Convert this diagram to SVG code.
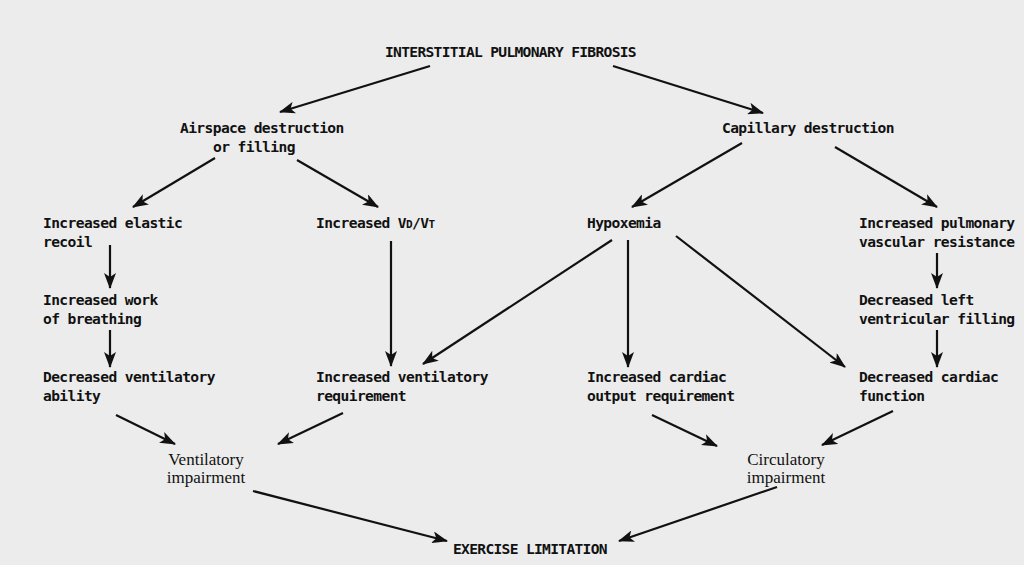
<svg xmlns="http://www.w3.org/2000/svg" width="1024" height="565" viewBox="0 0 1024 565">
<defs>
<style>
.m{font-family:"DejaVu Sans Mono","Liberation Mono",monospace;font-weight:bold;font-size:14.6px;letter-spacing:-0.6px;fill:#111}
.s{font-family:"Liberation Serif","Times New Roman",serif;font-size:17px;fill:#111}
.sc{font-size:11px}
.c line{stroke:#111;stroke-width:2.2}
</style>
<marker id="ah" markerUnits="userSpaceOnUse" markerWidth="16" markerHeight="12" refX="15" refY="6" orient="auto">
<path d="M0,0 L16,6 L0,12 L4,6 Z" fill="#111"/>
</marker>
</defs>
<rect width="1024" height="565" fill="#ececec"/>
<g class="c">
<line x1="430" y1="66" x2="280" y2="112" marker-end="url(#ah)"/>
<line x1="613" y1="66" x2="763" y2="113" marker-end="url(#ah)"/>
<line x1="215" y1="158" x2="133" y2="207" marker-end="url(#ah)"/>
<line x1="297" y1="160" x2="378" y2="207" marker-end="url(#ah)"/>
<line x1="742" y1="143" x2="632" y2="207" marker-end="url(#ah)"/>
<line x1="835" y1="147" x2="937" y2="207" marker-end="url(#ah)"/>
<line x1="110" y1="245" x2="110" y2="288" marker-end="url(#ah)"/>
<line x1="110" y1="330" x2="110" y2="367" marker-end="url(#ah)"/>
<line x1="391" y1="241" x2="391" y2="366" marker-end="url(#ah)"/>
<line x1="937" y1="253" x2="937" y2="288" marker-end="url(#ah)"/>
<line x1="937" y1="330" x2="937" y2="367" marker-end="url(#ah)"/>
<line x1="612" y1="240" x2="423" y2="364" marker-end="url(#ah)"/>
<line x1="628" y1="240" x2="628" y2="367" marker-end="url(#ah)"/>
<line x1="676" y1="236" x2="845" y2="367" marker-end="url(#ah)"/>
<line x1="116" y1="415" x2="175" y2="444" marker-end="url(#ah)"/>
<line x1="343" y1="413" x2="278" y2="444" marker-end="url(#ah)"/>
<line x1="652" y1="415" x2="717" y2="446" marker-end="url(#ah)"/>
<line x1="893" y1="411" x2="822" y2="445" marker-end="url(#ah)"/>
<line x1="253" y1="491" x2="447" y2="541" marker-end="url(#ah)"/>
<line x1="777" y1="487" x2="619" y2="541" marker-end="url(#ah)"/>
</g>
<g id="n-ipf"><text class="m" x="385" y="57" textLength="251">INTERSTITIAL PULMONARY FIBROSIS</text></g>
<g id="n-airspace"><text class="m" x="180" y="133">Airspace destruction</text><text class="m" x="213" y="152">or filling</text></g>
<g id="n-capillary"><text class="m" x="722" y="133">Capillary destruction</text></g>
<g id="n-elastic"><text class="m" x="43" y="228">Increased elastic</text><text class="m" x="43" y="247">recoil</text></g>
<g id="n-vdvt"><text class="m" x="316" y="228">Increased V<tspan class="sc">D</tspan>/V<tspan class="sc">T</tspan></text></g>
<g id="n-hypox"><text class="m" x="587" y="228">Hypoxemia</text></g>
<g id="n-pvr"><text class="m" x="859" y="228">Increased pulmonary</text><text class="m" x="859" y="247">vascular resistance</text></g>
<g id="n-work"><text class="m" x="43" y="305">Increased work</text><text class="m" x="43" y="324">of breathing</text></g>
<g id="n-lvf"><text class="m" x="859" y="305">Decreased left</text><text class="m" x="859" y="324">ventricular filling</text></g>
<g id="n-vab"><text class="m" x="43" y="382">Decreased ventilatory</text><text class="m" x="43" y="401">ability</text></g>
<g id="n-vreq"><text class="m" x="316" y="382">Increased ventilatory</text><text class="m" x="316" y="401">requirement</text></g>
<g id="n-coreq"><text class="m" x="587" y="382">Increased cardiac</text><text class="m" x="587" y="401">output requirement</text></g>
<g id="n-cfunc"><text class="m" x="859" y="382">Decreased cardiac</text><text class="m" x="859" y="401">function</text></g>
<g id="n-vimp"><text class="s" x="206" y="465" text-anchor="middle">Ventilatory</text><text class="s" x="206" y="483" text-anchor="middle">impairment</text></g>
<g id="n-cimp"><text class="s" x="786" y="465" text-anchor="middle">Circulatory</text><text class="s" x="786" y="483" text-anchor="middle">impairment</text></g>
<g id="n-ex"><text class="m" x="453" y="554" textLength="154">EXERCISE LIMITATION</text></g>
</svg>
